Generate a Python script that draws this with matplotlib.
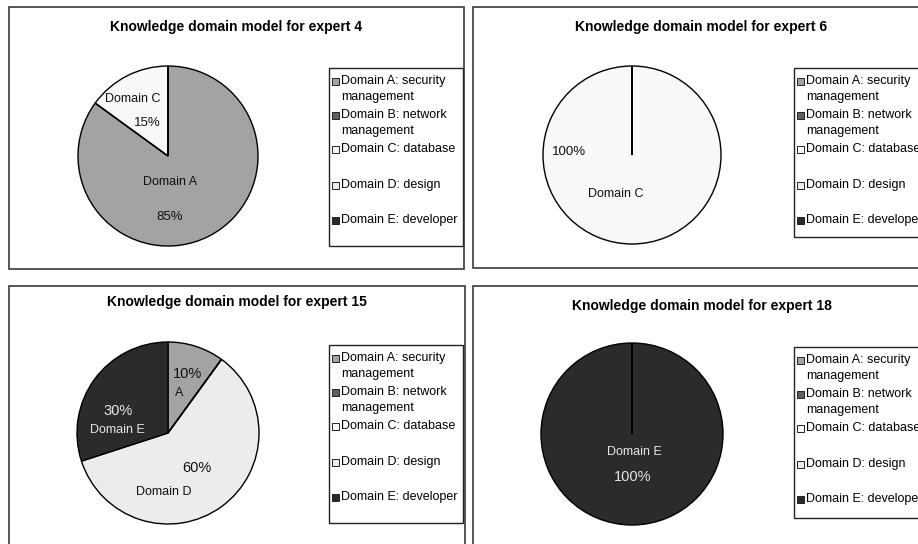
import matplotlib
matplotlib.use("Agg")
from matplotlib import pyplot as plt
from matplotlib.patches import Rectangle

plt.rcParams['font.family'] = ['Liberation Sans', 'DejaVu Sans']

# domains shared by every expert
domains = ['A', 'B', 'C', 'D', 'E']
legend_labels = ['Domain A: security\nmanagement',
                 'Domain B: network\nmanagement',
                 'Domain C: database',
                 'Domain D: design',
                 'Domain E: developer']
domain_colors = ['#a3a3a3', '#5f5f5f', '#f8f8f8', '#ececec', '#2b2b2b']

# share of each domain (percent) per expert
experts = [4, 6, 15, 18]
expert4 = [85, 0, 15, 0, 0]
expert6 = [0, 0, 100, 0, 0]
expert15 = [10, 0, 0, 60, 30]
expert18 = [0, 0, 0, 0, 100]
shares = [expert4, expert6, expert15, expert18]

W, H = 918, 544
fig = plt.figure(figsize=(W / 100, H / 100), dpi=100)
fig.patch.set_facecolor('white')

# background axes in pixel units for frames, titles and legends
bg = fig.add_axes([0, 0, 1, 1])
bg.set_xlim(0, W)
bg.set_ylim(H, 0)
bg.axis('off')

# panel frame (x0, y0, x1, y1), title y, pie centre/radius, legend box, label layout
panels = [
    dict(frame=(9, 7, 464, 269), title_y=27, pie=(168, 156, 90),
         legend=(329, 68, 134, 178), pct_size=9.5,
         labels=[('Domain A', 0, (0.02, -0.29), 'name'), ('Domain A', 0, (0.02, -0.68), 'pct'),
                 ('Domain C', 2, (-0.39, 0.63), 'name'), ('Domain C', 2, (-0.23, 0.37), 'pct')]),
    dict(frame=(473, 7, 930, 268), title_y=27, pie=(632, 155, 89),
         legend=(794, 68, 140, 169), pct_size=9.5,
         labels=[('Domain C', 2, (-0.71, 0.03), 'pct'), ('Domain C', 2, (-0.18, -0.44), 'name')]),
    dict(frame=(9, 286, 465, 560), title_y=302, pie=(168, 433, 91),
         legend=(329, 345, 134, 178), pct_size=10.5,
         labels=[('A', 0, (0.21, 0.65), 'pct'), ('A', 0, (0.12, 0.44), 'name'),
                 ('Domain E', 4, (-0.55, 0.24), 'pct'), ('Domain E', 4, (-0.56, 0.03), 'name'),
                 ('Domain D', 3, (0.32, -0.38), 'pct'), ('Domain D', 3, (-0.05, -0.65), 'name')]),
    dict(frame=(473, 286, 930, 560), title_y=306, pie=(632, 434, 91),
         legend=(794, 347, 140, 171), pct_size=10.5,
         labels=[('Domain E', 4, (0.03, -0.20), 'name'), ('Domain E', 4, (0.01, -0.47), 'pct')]),
]

# vertical offsets of legend text lines inside the box
row_offsets = [13, 47, 81, 117, 152]
second_line_gap = 16

for expert, vals, p in zip(experts, shares, panels):
    x0, y0, x1, y1 = p['frame']
    bg.add_patch(Rectangle((x0, y0), x1 - x0, y1 - y0, facecolor='white',
                           edgecolor='#3a3a3a', lw=1.2, zorder=1))
    bg.text((x0 + x1) / 2, p['title_y'], f'Knowledge domain model for expert {expert}',
            ha='center', va='center', fontsize=10, fontweight='bold', zorder=3)

    # legend
    lx, ly, lw, lh = p['legend']
    bg.add_patch(Rectangle((lx, ly), lw, lh, facecolor='white', edgecolor='#222222',
                           lw=1.0, zorder=2))
    for lab, col, off in zip(legend_labels, domain_colors, row_offsets):
        ry = ly + off
        bg.add_patch(Rectangle((lx + 3, ry - 3.5), 7, 7, facecolor=col,
                               edgecolor='#222222', lw=0.7, zorder=3))
        lines = lab.split('\n')
        for i, line in enumerate(lines):
            bg.text(lx + 12, ry + i * second_line_gap, line, ha='left', va='center',
                    fontsize=9, zorder=3)

    # pie: zero shares are kept so their edges show as radial lines
    cx, cy, r = p['pie']
    ax = fig.add_axes([(cx - r - 2) / W, 1 - (cy + r + 2) / H, (2 * r + 4) / W, (2 * r + 4) / H])
    ax.set_zorder(2)
    wedges, _ = ax.pie(vals, colors=domain_colors, startangle=90, counterclock=False,
                       radius=1.0, wedgeprops=dict(edgecolor='#000000', linewidth=1.0))
    for w, v in zip(wedges, vals):
        if v == 0:
            w.set_zorder(3)
    pad = 2 / r
    ax.set_xlim(-1 - pad, 1 + pad)
    ax.set_ylim(-1 - pad, 1 + pad)
    ax.set_aspect('equal')
    ax.axis('off')

    for name, idx, (dx, dy), kind in p['labels']:
        txt_color = '#e6e6e6' if idx == 4 else '#111111'
        if kind == 'pct':
            ax.text(dx, dy, f'{vals[idx]}%', ha='center', va='center',
                    fontsize=p['pct_size'], color=txt_color)
        else:
            ax.text(dx, dy, name, ha='center', va='center', fontsize=9, color=txt_color)

fig.savefig('out.png', dpi=100)
